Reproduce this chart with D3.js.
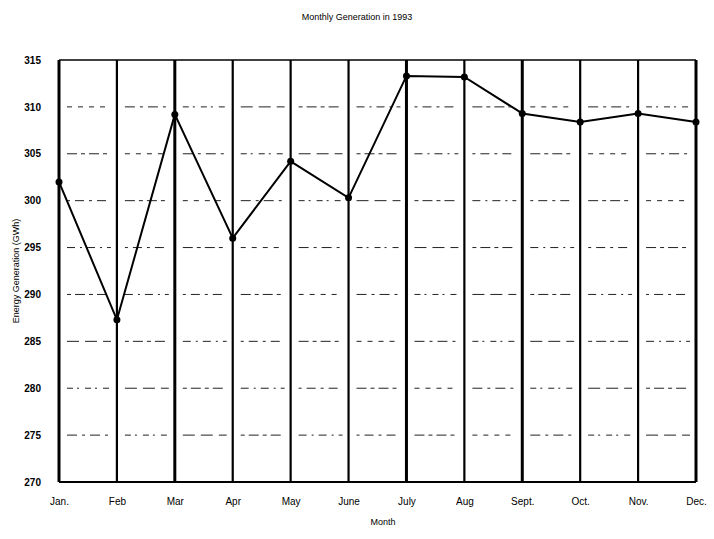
<!DOCTYPE html>
<html>
<head>
<meta charset="utf-8">
<script src="https://cdn.jsdelivr.net/npm/d3@7/dist/d3.min.js"></script>
<style>
  html, body { margin: 0; padding: 0; background: #fff; }
  svg { display: block; }
  text { font-family: "Liberation Sans", Arial, sans-serif; fill: #000; }
</style>
</head>
<body>
<svg id="chart" width="714" height="539"></svg>
<script>
const months = ["Jan.", "Feb", "Mar", "Apr", "May", "June", "July", "Aug", "Sept.", "Oct.", "Nov.", "Dec."];
const generation = [302, 287.3, 309.2, 296, 304.2, 300.3, 313.3, 313.2, 309.3, 308.4, 309.3, 308.4];
const yTicks = [270, 275, 280, 285, 290, 295, 300, 305, 310, 315];
const gridValues = [275, 280, 285, 290, 295, 300, 305, 310];
const titleText = "Monthly Generation in 1993";
const xTitle = "Month";
const yTitle = "Energy Generation (GWh)";

const svg = d3.select("#chart");
const x = d3.scalePoint().domain(months).range([59, 696]);
const y = d3.scaleLinear().domain([270, 315]).range([482, 60]);

// title
svg.append("text").attr("x", 357).attr("y", 20).attr("text-anchor", "middle")
  .style("font-size", "9px").text(titleText);

// dashed horizontal grid segments per column
const dashes = ["10,5,3,5", "6,4,2,6", "12,6", "4,4,10,4", "8,5,2,5", "3,5,9,5", "10,4,4,4", "5,6"];
gridValues.forEach((v, gi) => {
  for (let i = 0; i < months.length - 1; i++) {
    const x0 = x(months[i]) + 8, x1 = x(months[i + 1]) - 6;
    svg.append("line")
      .attr("x1", x0).attr("x2", x1)
      .attr("y1", y(v)).attr("y2", y(v))
      .attr("stroke", "#222").attr("stroke-width", 1)
      .attr("stroke-dasharray", dashes[(gi + i) % dashes.length]);
  }
});

// top and bottom borders
svg.append("line").attr("x1", x(months[0])).attr("x2", x(months[months.length - 1]))
  .attr("y1", y(315)).attr("y2", y(315)).attr("stroke", "#000").attr("stroke-width", 1.5);
svg.append("line").attr("x1", x(months[0])).attr("x2", x(months[months.length - 1]))
  .attr("y1", y(270)).attr("y2", y(270)).attr("stroke", "#000").attr("stroke-width", 2);

// vertical month lines
svg.selectAll("line.vert").data(months).enter().append("line")
  .attr("class", "vert")
  .attr("x1", d => x(d)).attr("x2", d => x(d))
  .attr("y1", y(315)).attr("y2", y(270))
  .attr("stroke", "#000")
  .attr("stroke-width", (d, i) => (i === 0 || i === 2 || i === 6 || i === 8 || i === 11) ? 3 : 2.2);

// y axis labels
const yAxis = d3.axisLeft(y).tickValues(yTicks).tickSize(0).tickPadding(0).tickFormat(d3.format("d"));
const ya = svg.append("g").attr("transform", "translate(41,0)").call(yAxis);
ya.select(".domain").remove();
ya.selectAll("text").style("font-size", "10px").style("font-weight", "bold")
  .style("font-family", "'Liberation Sans Narrow', 'Liberation Sans', Arial, sans-serif");

// x axis labels
const xAxis = d3.axisBottom(x).tickSize(0).tickPadding(0);
const xa = svg.append("g").attr("transform", "translate(0,498)").call(xAxis);
xa.select(".domain").remove();
xa.selectAll("text").style("font-size", "10px");

// axis titles
svg.append("text").attr("x", 383).attr("y", 525).attr("text-anchor", "middle")
  .style("font-size", "9px").text(xTitle);
svg.append("text").attr("transform", "translate(19,271) rotate(-90)").attr("text-anchor", "middle")
  .style("font-size", "9px").text(yTitle);

// data line
const line = d3.line().x((d, i) => x(months[i])).y(d => y(d));
svg.append("path").datum(generation).attr("d", line)
  .attr("fill", "none").attr("stroke", "#000").attr("stroke-width", 2);

svg.selectAll("circle.pt").data(generation).enter().append("circle")
  .attr("class", "pt")
  .attr("cx", (d, i) => x(months[i])).attr("cy", d => y(d)).attr("r", 3.5)
  .attr("fill", "#000");
</script>
</body>
</html>
